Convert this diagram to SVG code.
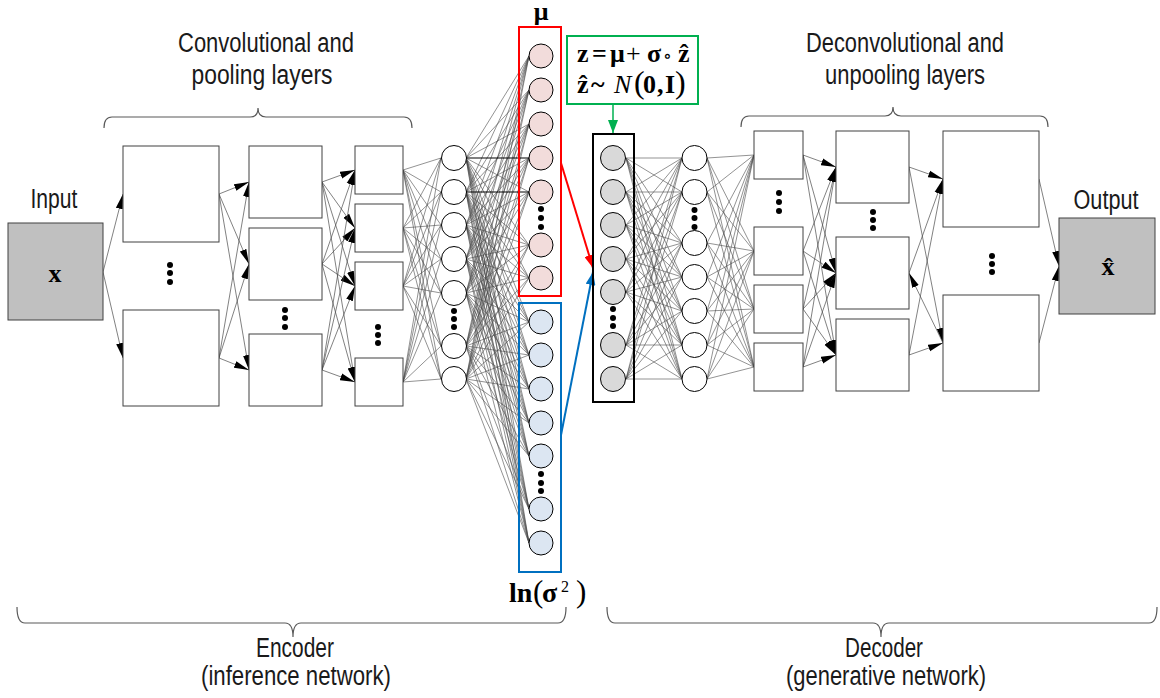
<svg xmlns="http://www.w3.org/2000/svg" width="1160" height="698" viewBox="0 0 1160 698">
<style>
.box{fill:#fff;stroke:#404040;stroke-width:1}
.gbox{fill:#c0c0c0;stroke:#404040;stroke-width:1}
.nd{fill:#fff;stroke:#000;stroke-width:1}
.mu{fill:#f2dcdb;stroke:#000;stroke-width:1}
.sg{fill:#dce6f2;stroke:#000;stroke-width:1}
.lt{fill:#d9d9d9;stroke:#000;stroke-width:1}
.dot{fill:#000}
.conn{stroke:#4a4a4a;stroke-width:0.6;fill:none}
.arr{stroke:#4a4a4a;stroke-width:0.7;fill:none;marker-end:url(#ah)}
.lbl{font-family:"Liberation Sans Narrow","Arial Narrow","Liberation Sans",sans-serif;font-size:27px;fill:#1a1a1a}
.m{font-family:"Liberation Serif","DejaVu Serif",serif;font-weight:bold;fill:#000}
.br{fill:none;stroke:#595959;stroke-width:1.2}
</style>
<defs>
<marker id="ah" markerUnits="userSpaceOnUse" markerWidth="15" markerHeight="8" refX="15" refY="4" orient="auto"><path d="M0,0.5L15,4L0,7.5z" fill="#000"/></marker>
<marker id="ahr" markerUnits="userSpaceOnUse" markerWidth="13" markerHeight="10" refX="13" refY="5" orient="auto"><path d="M0,0L13,5L0,10z" fill="#ff0000"/></marker>
<marker id="ahb" markerUnits="userSpaceOnUse" markerWidth="13" markerHeight="10" refX="13" refY="5" orient="auto"><path d="M0,0L13,5L0,10z" fill="#0070c0"/></marker>
<marker id="ahg" markerUnits="userSpaceOnUse" markerWidth="13" markerHeight="10" refX="13" refY="5" orient="auto"><path d="M0,0L13,5L0,10z" fill="#00b050"/></marker>
</defs>

<g id="connectors">
<path class="conn" d="M403 170L441 158M403 170L441 192M403 170L441 225M403 170L441 259M403 170L441 293M403 170L441 346M403 170L441 379M403 228L441 158M403 228L441 192M403 228L441 225M403 228L441 259M403 228L441 293M403 228L441 346M403 228L441 379M403 286L441 158M403 286L441 192M403 286L441 225M403 286L441 259M403 286L441 293M403 286L441 346M403 286L441 379M403 382L441 158M403 382L441 192M403 382L441 225M403 382L441 259M403 382L441 293M403 382L441 346M403 382L441 379"/>
<path class="conn" d="M466 158L529 56M466 158L529 90M466 158L529 124M466 158L529 192M466 158L529 245M466 158L529 278M466 158L529 322M466 158L529 355M466 158L529 389M466 158L529 423M466 158L529 456M466 158L529 509M466 158L529 543M466 192L529 56M466 192L529 90M466 192L529 124M466 192L529 158M466 192L529 245M466 192L529 278M466 192L529 322M466 192L529 355M466 192L529 389M466 192L529 423M466 192L529 456M466 192L529 509M466 192L529 543M466 225L529 56M466 225L529 90M466 225L529 124M466 225L529 158M466 225L529 192M466 225L529 245M466 225L529 278M466 225L529 322M466 225L529 355M466 225L529 389M466 225L529 423M466 225L529 456M466 225L529 509M466 225L529 543M466 259L529 56M466 259L529 90M466 259L529 124M466 259L529 158M466 259L529 192M466 259L529 245M466 259L529 278M466 259L529 322M466 259L529 355M466 259L529 389M466 259L529 423M466 259L529 456M466 259L529 509M466 259L529 543M466 293L529 56M466 293L529 90M466 293L529 124M466 293L529 158M466 293L529 192M466 293L529 245M466 293L529 278M466 293L529 322M466 293L529 355M466 293L529 389M466 293L529 423M466 293L529 456M466 293L529 509M466 293L529 543M466 346L529 56M466 346L529 90M466 346L529 124M466 346L529 158M466 346L529 192M466 346L529 245M466 346L529 278M466 346L529 322M466 346L529 355M466 346L529 389M466 346L529 423M466 346L529 456M466 346L529 509M466 346L529 543M466 379L529 56M466 379L529 90M466 379L529 124M466 379L529 158M466 379L529 192M466 379L529 245M466 379L529 278M466 379L529 322M466 379L529 355M466 379L529 389M466 379L529 423M466 379L529 456M466 379L529 509M466 379L529 543"/>
<path d="M466 158L529 158M466 192L529 192" stroke="#000" stroke-width="1.1"/>
<path class="conn" d="M626 158L682 158M626 158L682 192M626 158L682 243M626 158L682 277M626 158L682 311M626 158L682 345M626 158L682 379M626 192L682 158M626 192L682 192M626 192L682 243M626 192L682 277M626 192L682 311M626 192L682 345M626 192L682 379M626 225L682 158M626 225L682 192M626 225L682 243M626 225L682 277M626 225L682 311M626 225L682 345M626 225L682 379M626 259L682 158M626 259L682 192M626 259L682 243M626 259L682 277M626 259L682 311M626 259L682 345M626 259L682 379M626 292L682 158M626 292L682 192M626 292L682 243M626 292L682 277M626 292L682 311M626 292L682 345M626 292L682 379M626 345L682 158M626 345L682 192M626 345L682 243M626 345L682 277M626 345L682 311M626 345L682 345M626 345L682 379M626 379L682 158M626 379L682 192M626 379L682 243M626 379L682 277M626 379L682 311M626 379L682 345M626 379L682 379"/>
<path class="conn" d="M707 158L754 155M707 158L754 251M707 158L754 309M707 158L754 367M707 192L754 155M707 192L754 251M707 192L754 309M707 192L754 367M707 243L754 155M707 243L754 251M707 243L754 309M707 243L754 367M707 277L754 155M707 277L754 251M707 277L754 309M707 277L754 367M707 311L754 155M707 311L754 251M707 311L754 309M707 311L754 367M707 345L754 155M707 345L754 251M707 345L754 309M707 345L754 367M707 379L754 155M707 379L754 251M707 379L754 309M707 379L754 367"/>
<!-- encoder arrows -->
<line class="arr" x1="103" y1="272" x2="123" y2="194"/>
<line class="arr" x1="103" y1="272" x2="123" y2="358"/>
<line class="arr" x1="219" y1="194" x2="249" y2="182"/>
<line class="arr" x1="219" y1="194" x2="249" y2="264"/>
<line class="arr" x1="219" y1="194" x2="249" y2="370"/>
<line class="arr" x1="219" y1="358" x2="249" y2="182"/>
<line class="arr" x1="219" y1="358" x2="249" y2="264"/>
<line class="arr" x1="219" y1="358" x2="249" y2="370"/>
<line class="arr" x1="322" y1="182" x2="355" y2="170"/>
<line class="arr" x1="322" y1="182" x2="355" y2="228"/>
<line class="arr" x1="322" y1="182" x2="355" y2="286"/>
<line class="arr" x1="322" y1="182" x2="355" y2="382"/>
<line class="arr" x1="322" y1="264" x2="355" y2="170"/>
<line class="arr" x1="322" y1="264" x2="355" y2="228"/>
<line class="arr" x1="322" y1="264" x2="355" y2="286"/>
<line class="arr" x1="322" y1="264" x2="355" y2="382"/>
<line class="arr" x1="322" y1="370" x2="355" y2="170"/>
<line class="arr" x1="322" y1="370" x2="355" y2="228"/>
<line class="arr" x1="322" y1="370" x2="355" y2="286"/>
<line class="arr" x1="322" y1="370" x2="355" y2="382"/>
<!-- decoder arrows -->
<line class="arr" x1="803" y1="155" x2="836" y2="167"/>
<line class="arr" x1="803" y1="155" x2="836" y2="273"/>
<line class="arr" x1="803" y1="155" x2="836" y2="355"/>
<line class="arr" x1="803" y1="251" x2="836" y2="167"/>
<line class="arr" x1="803" y1="251" x2="836" y2="273"/>
<line class="arr" x1="803" y1="251" x2="836" y2="355"/>
<line class="arr" x1="803" y1="309" x2="836" y2="167"/>
<line class="arr" x1="803" y1="309" x2="836" y2="273"/>
<line class="arr" x1="803" y1="309" x2="836" y2="355"/>
<line class="arr" x1="803" y1="367" x2="836" y2="167"/>
<line class="arr" x1="803" y1="367" x2="836" y2="273"/>
<line class="arr" x1="803" y1="367" x2="836" y2="355"/>
<line class="arr" x1="909" y1="167" x2="943" y2="179"/>
<line class="arr" x1="909" y1="167" x2="943" y2="343"/>
<line class="arr" x1="909" y1="273" x2="943" y2="179"/>
<line class="arr" x1="943" y1="343" x2="909" y2="273"/>
<line class="arr" x1="909" y1="355" x2="943" y2="179"/>
<line class="arr" x1="909" y1="355" x2="943" y2="343"/>
<line class="arr" x1="1039" y1="179" x2="1059" y2="266"/>
<line class="arr" x1="1039" y1="343" x2="1059" y2="266"/>
<!-- latent arrows -->
<line x1="561" y1="163" x2="593" y2="268" stroke="#ff0000" stroke-width="2" marker-end="url(#ahr)"/>
<line x1="561" y1="435" x2="593" y2="272" stroke="#0070c0" stroke-width="2" marker-end="url(#ahb)"/>
<line x1="613" y1="104" x2="613" y2="133" stroke="#00b050" stroke-width="1.5" marker-end="url(#ahg)"/>
</g>

<g id="input">
<rect class="gbox" x="8" y="223" width="95" height="97"/>
<text class="m" x="55" y="282" font-size="26" text-anchor="middle">x</text>
<text class="lbl" x="54" y="208" text-anchor="middle" textLength="47" lengthAdjust="spacingAndGlyphs">Input</text>
</g>

<g id="enc-conv1">
<rect class="box" x="123" y="146" width="96" height="96"/>
<rect class="box" x="123" y="310" width="96" height="96"/>
<circle class="dot" cx="170" cy="265" r="3"/><circle class="dot" cx="170" cy="273" r="3"/><circle class="dot" cx="170" cy="282" r="3"/>
</g>
<g id="enc-conv2">
<rect class="box" x="249" y="146" width="73" height="72"/>
<rect class="box" x="249" y="228" width="73" height="72"/>
<rect class="box" x="249" y="334" width="73" height="72"/>
<circle class="dot" cx="285" cy="310" r="3"/><circle class="dot" cx="285" cy="318" r="3"/><circle class="dot" cx="285" cy="327" r="3"/>
</g>
<g id="enc-conv3">
<rect class="box" x="355" y="146" width="48" height="48"/>
<rect class="box" x="355" y="204" width="48" height="48"/>
<rect class="box" x="355" y="262" width="48" height="48"/>
<rect class="box" x="355" y="358" width="48" height="48"/>
<circle class="dot" cx="378" cy="327" r="3"/><circle class="dot" cx="378" cy="335" r="3"/><circle class="dot" cx="378" cy="343" r="3"/>
</g>
<g id="enc-fc">
<circle class="nd" cx="454" cy="158" r="12.5"/><circle class="nd" cx="454" cy="192" r="12.5"/><circle class="nd" cx="454" cy="225" r="12.5"/><circle class="nd" cx="454" cy="259" r="12.5"/><circle class="nd" cx="454" cy="293" r="12.5"/><circle class="nd" cx="454" cy="346" r="12.5"/><circle class="nd" cx="454" cy="379" r="12.5"/>
<circle class="dot" cx="454" cy="311" r="3"/><circle class="dot" cx="454" cy="319" r="3"/><circle class="dot" cx="454" cy="327" r="3"/>
</g>
<g id="mu">
<rect x="519" y="27" width="42" height="269" fill="none" stroke="#ff0000" stroke-width="2"/>
<circle class="mu" cx="541" cy="56" r="12"/><circle class="mu" cx="541" cy="90" r="12"/><circle class="mu" cx="541" cy="124" r="12"/><circle class="mu" cx="541" cy="158" r="12"/><circle class="mu" cx="541" cy="192" r="12"/><circle class="mu" cx="541" cy="245" r="12"/><circle class="mu" cx="541" cy="278" r="12"/>
<circle class="dot" cx="541" cy="209" r="3"/><circle class="dot" cx="541" cy="218" r="3"/><circle class="dot" cx="541" cy="227" r="3"/>
<text class="m" x="541" y="20" font-size="26" text-anchor="middle">μ</text>
</g>
<g id="logvar">
<rect x="519" y="303" width="42" height="269" fill="none" stroke="#0070c0" stroke-width="2"/>
<circle class="sg" cx="541" cy="322" r="12"/><circle class="sg" cx="541" cy="355" r="12"/><circle class="sg" cx="541" cy="389" r="12"/><circle class="sg" cx="541" cy="423" r="12"/><circle class="sg" cx="541" cy="456" r="12"/><circle class="sg" cx="541" cy="509" r="12"/><circle class="sg" cx="541" cy="543" r="12"/>
<circle class="dot" cx="541" cy="474" r="3"/><circle class="dot" cx="541" cy="483" r="3"/><circle class="dot" cx="541" cy="491" r="3"/>
<text class="m" y="602" font-size="28"><tspan x="509">ln</tspan><tspan x="533" font-size="31" font-weight="normal">(</tspan><tspan x="542">σ</tspan><tspan x="561" y="592" font-size="16" font-weight="normal">2</tspan><tspan x="576" y="602" font-size="31" font-weight="normal">)</tspan></text>
</g>
<g id="equation">
<rect x="567" y="36" width="131" height="68" fill="#fff" stroke="#00b050" stroke-width="2"/>
<text class="m" y="62" font-size="26"><tspan x="577">z</tspan><tspan x="592">=</tspan><tspan x="610">μ</tspan><tspan x="626" font-weight="normal">+</tspan><tspan x="647">σ</tspan><tspan x="663" font-weight="normal" font-size="18">∘</tspan><tspan x="678">ẑ</tspan></text>
<text class="m" y="93" font-size="26"><tspan x="577">ẑ</tspan><tspan x="591">~</tspan><tspan x="614" font-style="italic" font-weight="normal">N</tspan><tspan x="634" font-size="32" font-weight="normal">(</tspan><tspan x="643">0</tspan><tspan x="657">,</tspan><tspan x="665">I</tspan><tspan x="675" font-size="32" font-weight="normal">)</tspan></text>
</g>
<g id="latent">
<rect x="593" y="134" width="41" height="268" fill="none" stroke="#000" stroke-width="2"/>
<circle class="lt" cx="613" cy="158" r="12.5"/><circle class="lt" cx="613" cy="192" r="12.5"/><circle class="lt" cx="613" cy="225" r="12.5"/><circle class="lt" cx="613" cy="259" r="12.5"/><circle class="lt" cx="613" cy="292" r="12.5"/><circle class="lt" cx="613" cy="345" r="12.5"/><circle class="lt" cx="613" cy="379" r="12.5"/>
<circle class="dot" cx="613" cy="309" r="3"/><circle class="dot" cx="613" cy="318" r="3"/><circle class="dot" cx="613" cy="326" r="3"/>
</g>
<g id="dec-fc">
<circle class="nd" cx="694.5" cy="158" r="12.5"/><circle class="nd" cx="694.5" cy="192" r="12.5"/><circle class="nd" cx="694.5" cy="243" r="12.5"/><circle class="nd" cx="694.5" cy="277" r="12.5"/><circle class="nd" cx="694.5" cy="311" r="12.5"/><circle class="nd" cx="694.5" cy="345" r="12.5"/><circle class="nd" cx="694.5" cy="379" r="12.5"/>
<circle class="dot" cx="694.5" cy="210" r="3"/><circle class="dot" cx="694.5" cy="218" r="3"/><circle class="dot" cx="694.5" cy="227" r="3"/>
</g>
<g id="dec-deconv1">
<rect class="box" x="754" y="131" width="49" height="48"/>
<rect class="box" x="754" y="227" width="49" height="48"/>
<rect class="box" x="754" y="285" width="49" height="48"/>
<rect class="box" x="754" y="343" width="49" height="48"/>
<circle class="dot" cx="779" cy="193" r="3"/><circle class="dot" cx="779" cy="202" r="3"/><circle class="dot" cx="779" cy="211" r="3"/>
</g>
<g id="dec-deconv2">
<rect class="box" x="836" y="131" width="73" height="72"/>
<rect class="box" x="836" y="237" width="73" height="72"/>
<rect class="box" x="836" y="319" width="73" height="72"/>
<circle class="dot" cx="873" cy="212" r="3"/><circle class="dot" cx="873" cy="220" r="3"/><circle class="dot" cx="873" cy="228" r="3"/>
</g>
<g id="dec-deconv3">
<rect class="box" x="943" y="131" width="96" height="96"/>
<rect class="box" x="943" y="295" width="96" height="96"/>
<circle class="dot" cx="992" cy="256" r="3"/><circle class="dot" cx="992" cy="264" r="3"/><circle class="dot" cx="992" cy="272" r="3"/>
</g>
<g id="output">
<rect class="gbox" x="1059" y="218" width="96" height="96"/>
<text class="m" x="1108" y="275" font-size="26" text-anchor="middle">x̂</text>
<text class="lbl" x="1106" y="209" text-anchor="middle" textLength="65" lengthAdjust="spacingAndGlyphs">Output</text>
</g>

<g id="labels">
<path class="br" d="M104,128Q104,117 112,117L250,117Q258,117 258,108Q258,117 266,117L404,117Q412,117 412,128"/>
<text class="lbl" x="266" y="52" text-anchor="middle" textLength="176" lengthAdjust="spacingAndGlyphs">Convolutional and</text>
<text class="lbl" x="262" y="84" text-anchor="middle" textLength="141" lengthAdjust="spacingAndGlyphs">pooling layers</text>
<path class="br" d="M741,127Q741,116 749,116L885,116Q893,116 893,107Q893,116 901,116L1040,116Q1048,116 1048,127"/>
<text class="lbl" x="905" y="52" text-anchor="middle" textLength="198" lengthAdjust="spacingAndGlyphs">Deconvolutional and</text>
<text class="lbl" x="905" y="84" text-anchor="middle" textLength="160" lengthAdjust="spacingAndGlyphs">unpooling layers</text>
<path class="br" d="M17,607Q17,623 25,623L285,623Q293,623 293,637Q293,623 301,623L558,623Q566,623 566,607"/>
<text class="lbl" x="295" y="657" text-anchor="middle" textLength="78" lengthAdjust="spacingAndGlyphs">Encoder</text>
<text class="lbl" x="296" y="685" text-anchor="middle" textLength="190" lengthAdjust="spacingAndGlyphs">(inference network)</text>
<path class="br" d="M607,607Q607,623 615,623L873,623Q881,623 881,637Q881,623 889,623L1149,623Q1157,623 1157,607"/>
<text class="lbl" x="884" y="657" text-anchor="middle" textLength="78" lengthAdjust="spacingAndGlyphs">Decoder</text>
<text class="lbl" x="886" y="685" text-anchor="middle" textLength="200" lengthAdjust="spacingAndGlyphs">(generative network)</text>
</g>
</svg>
